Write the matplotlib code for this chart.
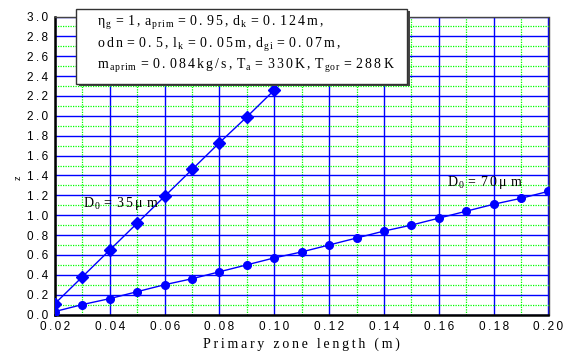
import re
import matplotlib
matplotlib.use("Agg")
import matplotlib.pyplot as plt
from matplotlib.patches import Rectangle

# primary zone length (m)
length_35 = [0.02, 0.03, 0.04, 0.05, 0.06, 0.07, 0.08, 0.09, 0.10]
z_35 = [0.11, 0.38, 0.65, 0.92, 1.19, 1.46, 1.73, 1.99, 2.26]

length_70 = [0.02, 0.03, 0.04, 0.05, 0.06, 0.07, 0.08, 0.09, 0.10, 0.11,
             0.12, 0.13, 0.14, 0.15, 0.16, 0.17, 0.18, 0.19, 0.20]
z_70 = [0.03, 0.10, 0.16, 0.23, 0.30, 0.36, 0.43, 0.50, 0.57, 0.63,
        0.70, 0.77, 0.84, 0.90, 0.97, 1.04, 1.11, 1.17, 1.24]

x_ticks = [0.02, 0.04, 0.06, 0.08, 0.10, 0.12, 0.14, 0.16, 0.18, 0.20]
y_ticks = [0.0, 0.2, 0.4, 0.6, 0.8, 1.0, 1.2, 1.4, 1.6, 1.8, 2.0, 2.2, 2.4, 2.6, 2.8, 3.0]

param_lines = [
    r"\eta_{g}=1,a_{prim}=0.95,d_{k}=0.124m,",
    r"odn=0.5,l_{k}=0.05m,d_{gi}=0.07m,",
    r"m_{aprim}=0.084kg/s,T_{a}=330K,T_{gor}=288K",
]

plt.rcParams["mathtext.fontset"] = "custom"
plt.rcParams["mathtext.rm"] = "Liberation Serif"
plt.rcParams["mathtext.it"] = "Liberation Serif"
plt.rcParams["mathtext.bf"] = "Liberation Serif"

BLUE = "#0000ff"
SANS = ["Liberation Sans", "DejaVu Sans"]
SERIF = ["Liberation Serif", "DejaVu Serif"]


def thin(s):
    # wide letter spacing for plain text
    return "\u2009".join(s)


def spaced_math(s, gap=r"\hspace{0.2}"):
    # letter-spaced mathtext, subscripts set a little apart from their base
    out = []
    i = 0
    while i < len(s):
        c = s[i]
        if c == "_":
            j = s.index("}", i)
            sub = s[i + 2:j]
            out[-1] += r"\hspace{0.12}{}_{" + r"\hspace{0.12}".join(sub) + "}"
            i = j + 1
            continue
        if c == "\\":
            cmd = re.match(r"\\[a-zA-Z]+", s[i:]).group()
            out.append(cmd)
            i += len(cmd)
            continue
        out.append(c)
        i += 1
    return "$" + gap.join(out) + "$"


fig = plt.figure(figsize=(5.71, 3.55), dpi=100)
ax = fig.add_axes([55 / 571, 1 - 314.5 / 355, 493.5 / 571, 298 / 355])

ax.plot(length_35, z_35, color=BLUE, lw=1.0, marker="D", ms=6, zorder=3)
ax.plot(length_70, z_70, color=BLUE, lw=1.0, marker="o", ms=5.5, zorder=3)

ax.set_xlim(0.02, 0.20)
ax.set_ylim(0.0, 3.0)
ax.set_xticks(x_ticks)
ax.set_xticks([v + 0.01 for v in x_ticks[:-1]], minor=True)
ax.set_yticks(y_ticks)
ax.set_yticks([v + 0.1 for v in y_ticks[:-1]], minor=True)
ax.set_xticklabels([thin(f"{v:.2f}") for v in x_ticks], family=SANS, fontsize=8.5)
ax.set_yticklabels([thin(f"{v:.1f}") for v in y_ticks], family=SANS, fontsize=8.5)
ax.tick_params(which="both", length=0)
ax.tick_params(axis="x", pad=5)
ax.tick_params(axis="y", pad=5)

ax.grid(which="major", color=BLUE, lw=1.0, ls="-", zorder=1)
ax.grid(which="minor", color="#00ff00", lw=0.9, ls=(0, (1, 1)), zorder=1)
ax.set_axisbelow(True)

for side in ("left", "bottom"):
    ax.spines[side].set_color("black")
    ax.spines[side].set_linewidth(1.8)
for side in ("top", "right"):
    ax.spines[side].set_color("#444444")
    ax.spines[side].set_linewidth(1.0)

ax.set_xlabel(thin("Primary zone length (m)"), family=SERIF, fontsize=10, labelpad=3)
ax.text(-0.075, 0.46, "z", transform=ax.transAxes, rotation=90,
        family=SANS, fontsize=6.5, ha="center", va="center")

ax.text(0.0302, 1.12, spaced_math(r"D_{0}=35\mu m"), fontsize=10,
        ha="left", va="center")
ax.text(0.1630, 1.33, spaced_math(r"D_{0}=70\mu m"), fontsize=10,
        ha="left", va="center")

# parameter box with drop shadow
bx0, by0, bw, bh = 76 / 571, 1 - 84 / 355, 331 / 571, 75 / 355
fig.patches.append(Rectangle((bx0 + 3 / 571, by0 - 2 / 355), bw, bh,
                             transform=fig.transFigure, facecolor="#444444",
                             edgecolor="none", zorder=5))
fig.patches.append(Rectangle((bx0, by0), bw, bh, transform=fig.transFigure,
                             facecolor="white", edgecolor="#333333", lw=1.0,
                             zorder=6))
for k, line in enumerate(param_lines):
    fig.text(97 / 571, 1 - (26 + 21.6 * k) / 355, spaced_math(line),
             fontsize=10, ha="left", va="baseline", zorder=7)

fig.savefig("out.png", dpi=100)
